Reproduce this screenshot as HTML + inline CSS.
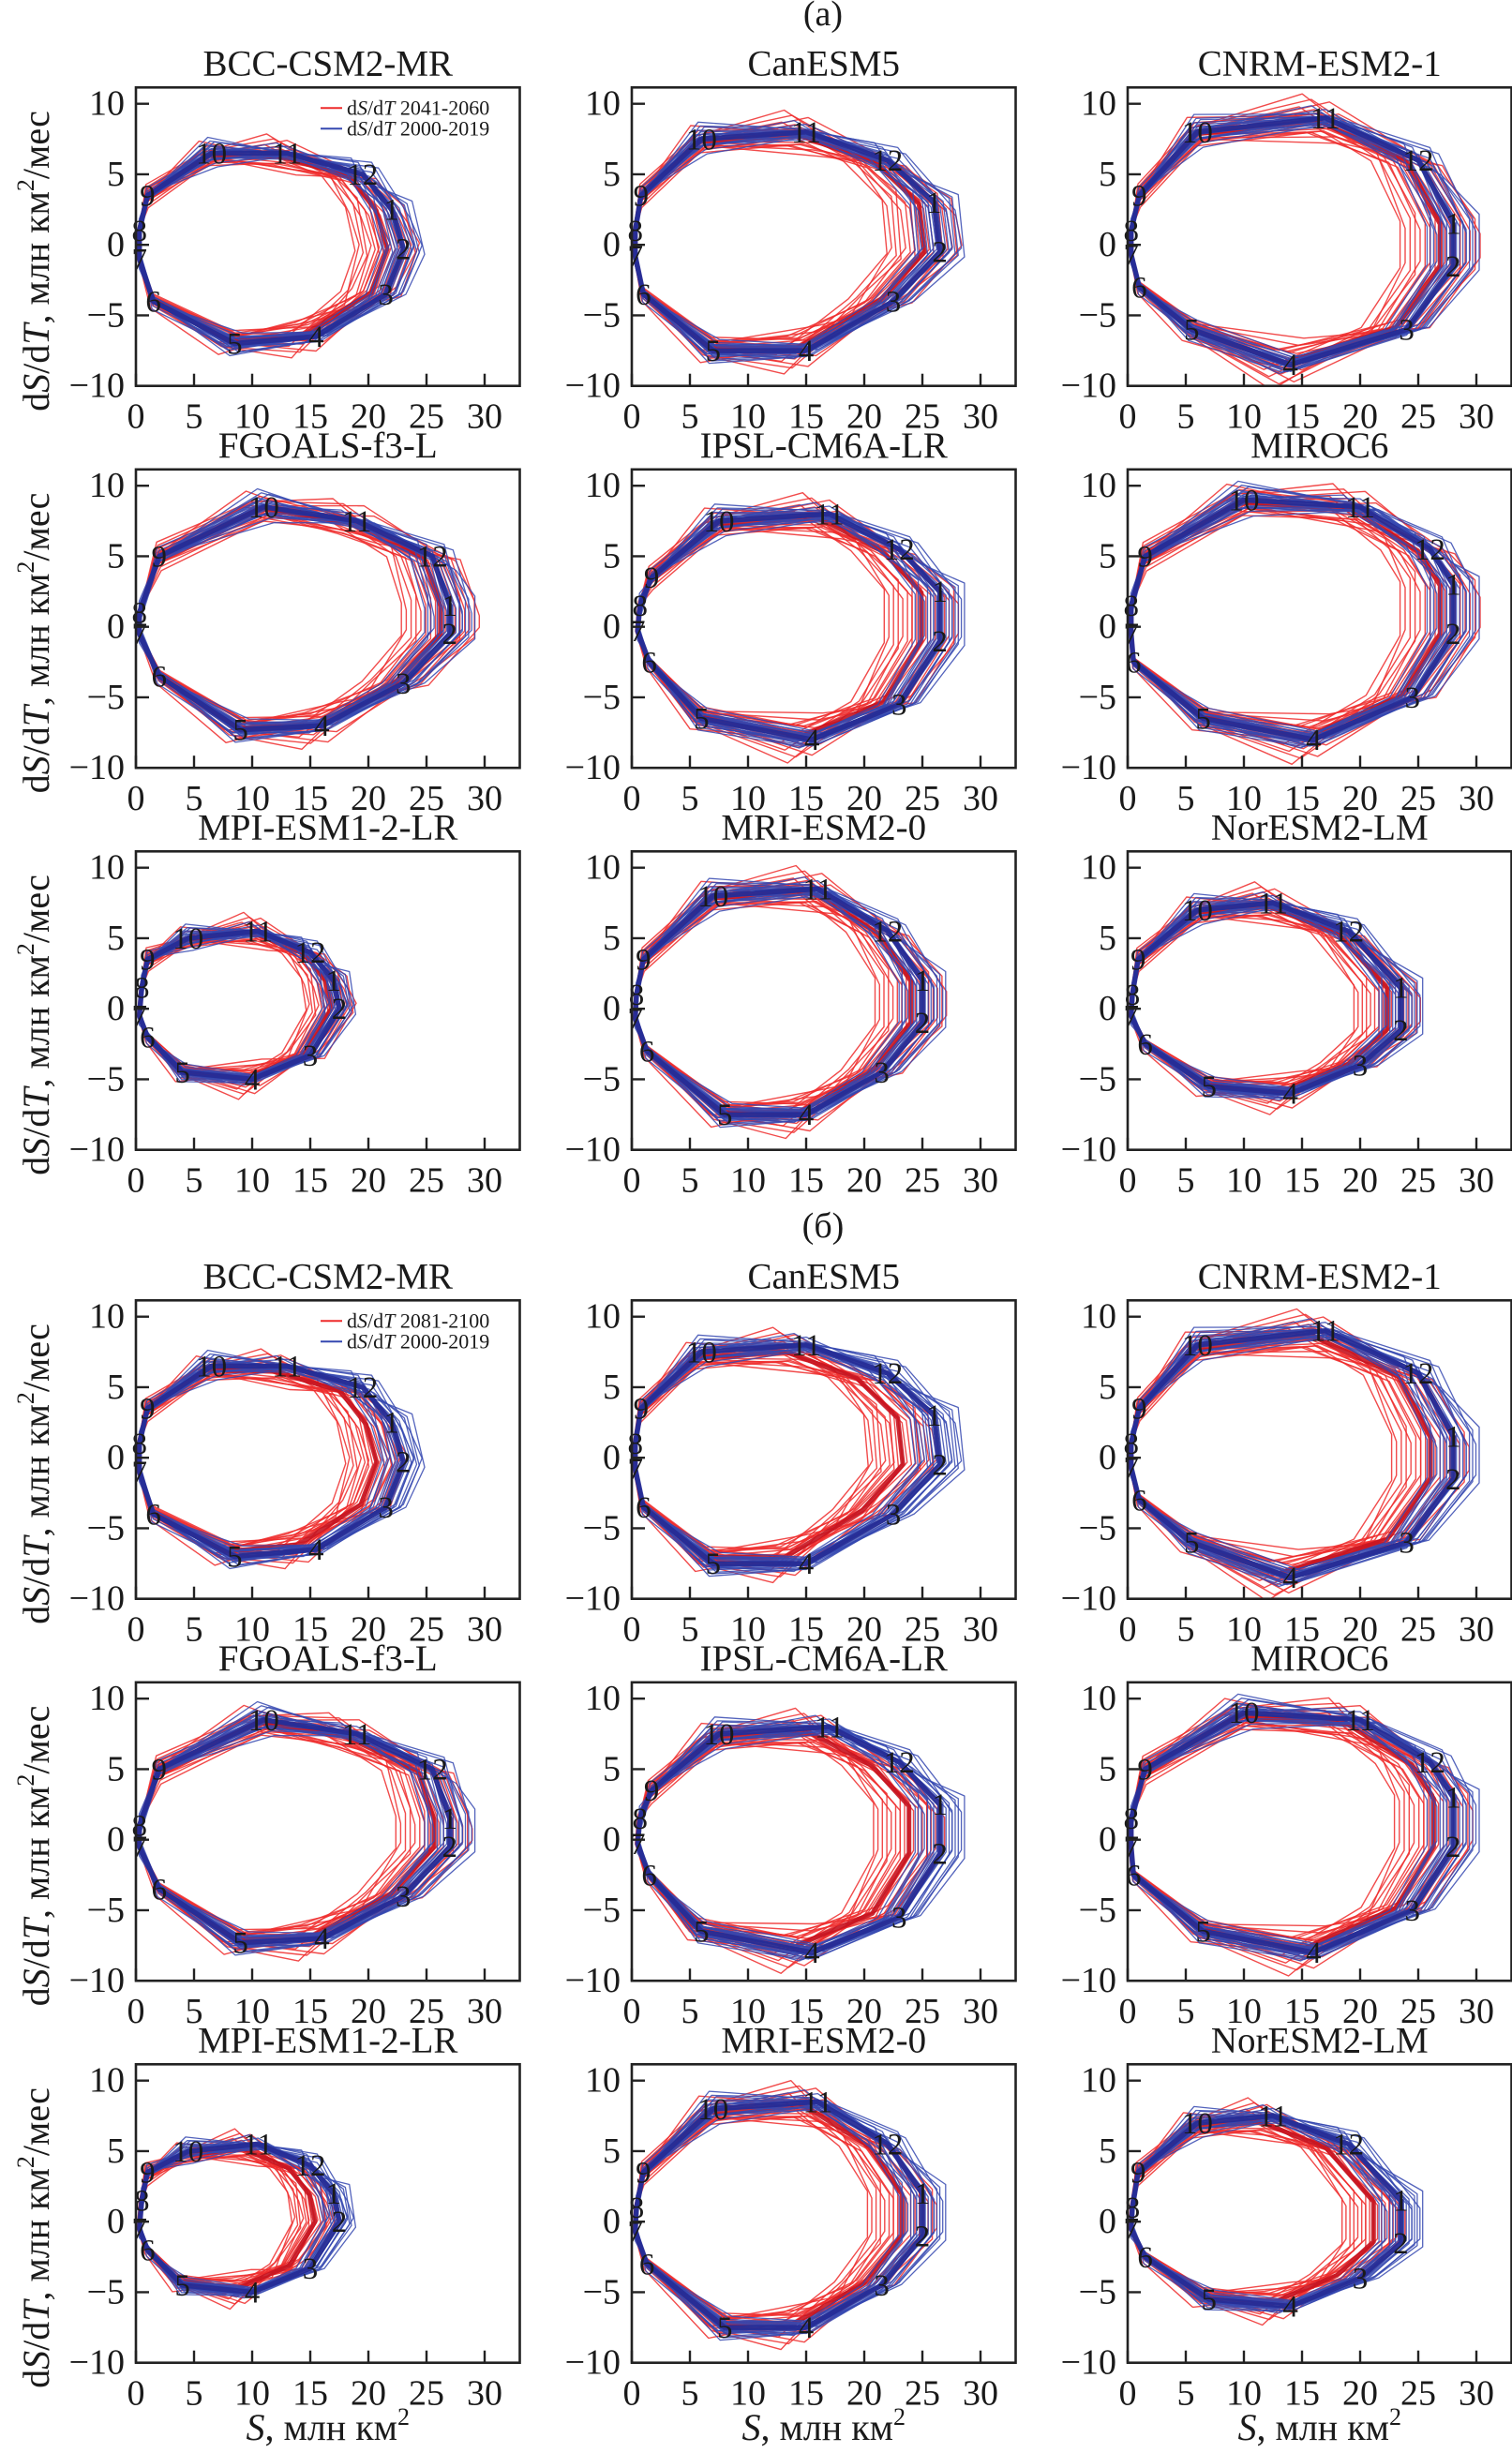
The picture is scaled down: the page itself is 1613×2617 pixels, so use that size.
<!DOCTYPE html>
<html><head><meta charset="utf-8"><style>
body{margin:0;background:#fff}
svg{display:block}
text{font-family:"Liberation Serif",serif;fill:#1a1a1a}
</style></head><body>
<svg id="fig" width="1613" height="2617" viewBox="0 0 1613 2617" xmlns="http://www.w3.org/2000/svg">
<rect width="1613" height="2617" fill="#fff"/>
<text x="878" y="27" font-size="38" text-anchor="middle">(a)</text>
<text x="878" y="1320" font-size="38" text-anchor="middle">(б)</text>
</svg>
<script>
// ---- data ----
const models = ["BCC-CSM2-MR","CanESM5","CNRM-ESM2-1","FGOALS-f3-L","IPSL-CM6A-LR","MIROC6","MPI-ESM1-2-LR","MRI-ESM2-0","NorESM2-LM"];
const months = [1,2,3,4,5,6,7,8,9,10,11,12];
const blueS = [
 [22,23,21.5,15.5,8.5,1.5,0.3,0.3,1,6.5,13,19.5],
 [26,26.5,22.5,15,7,1,0.3,0.3,0.8,6,15,22],
 [28,28,24,14,5.5,1,0.3,0.3,1,6,17,25],
 [27,27,23,16,9,2,0.3,0.3,2,11,19,25.5],
 [26.5,26.5,23,15.5,6,1.5,0.5,0.7,1.7,7.5,17,23],
 [28,28,24.5,16,6.5,0.5,0.3,0.3,1.5,10,20,26],
 [17,17.5,15,10,4,1,0.3,0.5,1,4.5,10.5,15],
 [25,25,21.5,15,8,1.3,0.3,0.4,1,7,16,22],
 [23.5,23.5,20,14,7,1.5,0.3,0.4,0.9,6,12.5,19]
];
const blueD = [
 [2.5,-0.3,-3.5,-6.5,-7,-4,-1,1,3.5,6.5,6.5,5],
 [3,-0.5,-4,-7.5,-7.5,-3.5,-0.8,1,3.5,7.5,8,6],
 [1.5,-1.5,-6,-8.5,-6,-3,-0.7,1,3.5,8,9,6],
 [1.5,-0.5,-4,-7,-7.3,-3.5,-0.5,1,5,8.5,7.5,5],
 [2.5,-1,-5.5,-8,-6.5,-2.5,-0.3,1.5,3.5,7.5,8,5.5],
 [3,-0.5,-5,-8,-6.5,-2.5,-0.5,1.5,5,9,8.5,5.5],
 [2,0,-3.3,-5,-4.5,-2,-0.5,1.5,3.5,5,5.5,4],
 [2,-1,-4.5,-7.5,-7.5,-3,-0.7,1,3.5,8,8.5,5.5],
 [1.5,-1.5,-4,-6,-5.5,-2.5,-0.5,1,3.5,7,7.5,5.5]
];
const redShrinkA = [0.94,0.95,0.96,0.97,0.94,0.96,0.96,0.96,0.95];
const redShrinkB = [0.90,0.88,0.93,0.95,0.90,0.94,0.88,0.93,0.90];
const yrS = [1.00,0.96,1.04,0.98,1.07,0.93,1.02,0.99,1.05,0.95,1.01,0.97,1.08,0.94,1.03,0.98,1.06,0.92,1.00,1.04];
const yrD = [1.02,0.97,1.05,0.95,1.00,1.06,0.94,1.03,0.98,1.08,0.96,1.01,0.93,1.04,0.99,1.07,0.95,1.02,1.05,0.97];
const yrW = [0.5,-0.8,1.2,-0.3,0.9,-1.1,0.2,0.7,-0.6,1.5,-0.4,0.1,-1.3,0.8,-0.2,1.0,-0.9,0.4,-0.5,0.6];
const wob = [0.4,-0.3,0.5,-0.6,0.3,0.2,0.1,-0.2,0.3,-0.4,0.5,-0.3];
const xTicks = [0,5,10,15,20,25,30];
const yTicks = [-10,-5,0,5,10];
const legendA = ["2041-2060","2000-2019"];
const legendB = ["2081-2100","2000-2019"];

// ---- layout ----
const NS = "http://www.w3.org/2000/svg";
const svg = document.getElementById("fig");
const colLeft = [145,674,1203];
const rowTopA = [93.3,500.8,908.3];
const rowTopB = [1387.3,1794.8,2202.3];
const W = 409.5, H = 318.4;
function mk(tag, attrs, parent){const e=document.createElementNS(NS,tag);for(const k in attrs)e.setAttribute(k,attrs[k]);(parent||svg).appendChild(e);return e;}

function panel(mi, left, top, shrink, legend, sect){
  const g = mk("g",{});
  
  
  const sx = v => left + v*12.4;
  const sy = v => top + H - (v+10)*15.05;
  const cid = "c"+sect+mi;
  const cp = mk("clipPath",{id:cid},g); mk("rect",{x:left,y:top,width:W,height:H},cp);
  const lines = mk("g",{"clip-path":"url(#"+cid+")"},g);
  
  
  function poly(Sarr, Darr, col, w, op, name){
    const pts = Sarr.map((s,i)=>sx(s).toFixed(1)+","+sy(Darr[i]).toFixed(1)).join(" ");
    const p = mk("polygon",{points:pts,fill:"none",stroke:col,"stroke-width":w,"stroke-opacity":op,"stroke-linejoin":"round"},lines);
    
    
  }
  const bS = blueS[mi], bD = blueD[mi];
  const rS = bS.map(v=>v*shrink), rD = bD.map(v=>v*(0.5+shrink/2));
  for(let y=0;y<20;y++){
    const k = 19-y, amp = 1.6;
    const S = rS.map(v=>v*(1+(yrS[k]-1)*amp));
    const D = rD.map((v,i)=>v*(1+(yrD[k]-1)*amp)+yrW[k]*wob[i]);
    poly(S,D,"#ee2b2b",1.4,0.85,"red-year-loop");
  }
  poly(rS,rD,"#c51420",5,0.9,"red-mean-loop");
  for(let y=0;y<20;y++){
    const S = bS.map(v=>v*yrS[y]);
    const D = bD.map((v,i)=>v*yrD[y]+yrW[y]*wob[(i+3)%12]);
    poly(S,D,"#3548b0",1.3,0.85,"blue-year-loop");
  }
  poly(bS,bD,"#262c96",5.5,0.95,"blue-mean-loop");
  months.forEach((m,i)=>{
    const t = mk("text",{x:sx(bS[i]).toFixed(1),y:(sy(bD[i])+11).toFixed(1),"font-size":33,"text-anchor":"middle"},g);
    
    
    t.textContent = m;
  });
  const fr = mk("rect",{x:left,y:top,width:W,height:H,fill:"none",stroke:"#222","stroke-width":2.6},g);
  
  
  xTicks.forEach(v=>{
    mk("line",{x1:sx(v),x2:sx(v),y1:top+H,y2:top+H-13,stroke:"#222","stroke-width":2.4},g);
    const t = mk("text",{x:sx(v),y:top+H+45,"font-size":38,"text-anchor":"middle"},g);
    
    
    t.textContent = v;
  });
  yTicks.forEach(v=>{
    mk("line",{x1:left,x2:left+14,y1:sy(v),y2:sy(v),stroke:"#222","stroke-width":2.4},g);
    const t = mk("text",{x:left-12,y:sy(v)+12,"font-size":38,"text-anchor":"end"},g);
    
    
    t.textContent = v<0 ? "\u2212"+(-v) : v;
  });
  const ti = mk("text",{x:left+W/2,y:top-13,"font-size":39,"text-anchor":"middle"},g);
  
  
  ti.textContent = models[mi];
  if(legend){
    const cols = ["#ee2b2b","#3548b0"];
    legend.forEach((lab,i)=>{
      const yy = top+22+i*22;
      mk("line",{x1:left+197,x2:left+220,y1:yy,y2:yy,stroke:cols[i],"stroke-width":2},g);
      const t = mk("text",{x:left+225,y:yy+7,"font-size":22},g);
      
      
      t.innerHTML = 'd<tspan font-style="italic">S</tspan>/d<tspan font-style="italic">T</tspan> '+lab;
    });
  }
}

function ylabel(top){
  const cx = 38, cy = top + H/2 + 26;
  const t = mk("text",{x:cx,y:cy,"font-size":40,"text-anchor":"middle",transform:"rotate(-90 "+cx+" "+(cy)+")",dy:"14"});
  
  
  t.innerHTML = 'd<tspan font-style="italic">S</tspan>/d<tspan font-style="italic">T</tspan>, млн км<tspan font-size="26" dy="-16">2</tspan><tspan dy="16">/мес</tspan>';
}

[["a",rowTopA,redShrinkA,legendA],["b",rowTopB,redShrinkB,legendB]].forEach(([sect,rows,shr,leg])=>{
  rows.forEach((top,r)=>{
    ylabel(top);
    colLeft.forEach((left,c)=>{
      const mi = r*3+c;
      panel(mi,left,top,shr[mi],mi===0?leg:null,sect);
    });
  });
});
colLeft.forEach(left=>{
  const t = mk("text",{x:left+W/2,y:2603,"font-size":40,"text-anchor":"middle"});
  
  
  t.innerHTML = '<tspan font-style="italic">S</tspan>, млн км<tspan font-size="26" dy="-16">2</tspan>';
});
</script>
</body></html>
